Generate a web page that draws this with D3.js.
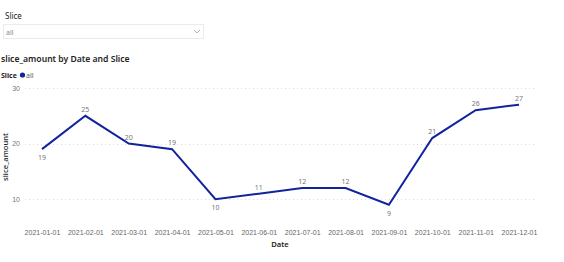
<!DOCTYPE html>
<html>
<head>
<meta charset="utf-8">
<script src="https://cdnjs.cloudflare.com/ajax/libs/d3/7.8.5/d3.min.js"></script>
<style>
  body { margin: 0; background: #fff; }
  svg { display: block; font-family: "Segoe UI", "Noto Sans", sans-serif; }
</style>
</head>
<body>
<script>
// Chart data
var dates = ["2021-01-01", "2021-02-01", "2021-03-01", "2021-04-01", "2021-05-01", "2021-06-01",
             "2021-07-01", "2021-08-01", "2021-09-01", "2021-10-01", "2021-11-01", "2021-12-01"];
var amounts = [19, 25, 20, 19, 10, 11, 12, 12, 9, 21, 26, 27];
// which side of the point the data label sits on
var labelBelow = [true, false, false, false, true, false, false, false, true, false, false, false];
var yTicks = [10, 20, 30];
var sliceOptions = ["all"];

var width = 564, height = 262;
var svg = d3.select("body").append("svg")
    .attr("width", width)
    .attr("height", height);

// Slicer (dropdown) on top
svg.append("text")
    .attr("x", 5).attr("y", 19)
    .style("font-size", "8px")
    .style("fill", "#252423")
    .text("Slice");

svg.append("rect")
    .attr("x", 3.5).attr("y", 24.5)
    .attr("width", 200).attr("height", 14)
    .style("fill", "#fff")
    .style("stroke", "#ebebeb");

svg.append("text")
    .attr("x", 6).attr("y", 34.5)
    .style("font-size", "7px")
    .style("fill", "#8a8886")
    .text(sliceOptions[0]);

svg.append("path")
    .attr("d", "M194,30 L197,33 L200,30")
    .style("fill", "none")
    .style("stroke", "#a19f9d")
    .style("stroke-width", 0.8);

// Title
svg.append("text")
    .attr("x", 1).attr("y", 62)
    .style("font-size", "8.6px")
    .style("font-weight", 600)
    .style("fill", "#252423")
    .text("slice_amount by Date and Slice");

// Legend
svg.append("text")
    .attr("x", 1).attr("y", 77.5)
    .style("font-size", "7px")
    .style("font-weight", 700)
    .style("fill", "#252423")
    .text("Slice");

svg.append("circle")
    .attr("cx", 22.5).attr("cy", 75)
    .attr("r", 2.6)
    .style("fill", "#12239E");

svg.append("text")
    .attr("x", 26).attr("y", 77.5)
    .style("font-size", "7px")
    .style("fill", "#605E5C")
    .text(sliceOptions[0]);

// Scales
var x = d3.scalePoint().domain(dates).range([42, 519]);
var y = d3.scaleLinear().domain([5, 30]).range([227, 88]);

// Gridlines
svg.append("g")
    .selectAll("line")
    .data(yTicks)
    .join("line")
    .attr("x1", 25).attr("x2", 535)
    .attr("y1", function(d) { return Math.round(y(d)) + 0.5; })
    .attr("y2", function(d) { return Math.round(y(d)) + 0.5; })
    .style("stroke", "#dcdcdc")
    .style("stroke-width", 1)
    .style("stroke-dasharray", "1,3");

// Y axis
var yAxis = svg.append("g")
    .attr("transform", "translate(20,0)")
    .call(d3.axisLeft(y).tickValues(yTicks).tickSize(0).tickPadding(0));
yAxis.select(".domain").remove();
yAxis.selectAll("text")
    .style("font-size", "7px")
    .style("fill", "#777")
    .style("font-family", "inherit");

svg.append("text")
    .attr("transform", "translate(8,157) rotate(-90)")
    .attr("text-anchor", "middle")
    .style("font-size", "7.6px")
    .style("font-weight", 500)
    .style("fill", "#252423")
    .text("slice_amount");

// X axis
var xAxis = svg.append("g")
    .attr("transform", "translate(0,230)")
    .call(d3.axisBottom(x).tickSize(0).tickPadding(0));
xAxis.select(".domain").remove();
xAxis.selectAll("text")
    .style("font-size", "7px")
    .style("fill", "#666")
    .style("font-family", "inherit");

svg.append("text")
    .attr("x", 280).attr("y", 247)
    .attr("text-anchor", "middle")
    .style("font-size", "7.6px")
    .style("font-weight", 600)
    .style("fill", "#252423")
    .text("Date");

// Line
var points = dates.map(function(d, i) { return { date: d, value: amounts[i], below: labelBelow[i] }; });

var line = d3.line()
    .x(function(d) { return x(d.date); })
    .y(function(d) { return y(d.value); });

svg.append("path")
    .datum(points)
    .attr("d", line)
    .style("fill", "none")
    .style("stroke", "#12239E")
    .style("stroke-width", 2)
    .style("stroke-linejoin", "miter");

// Data labels
svg.append("g")
    .selectAll("text")
    .data(points)
    .join("text")
    .attr("x", function(d) { return x(d.date); })
    .attr("y", function(d) { return y(d.value) + (d.below ? 11 : -4); })
    .attr("text-anchor", "middle")
    .style("font-size", "7px")
    .style("fill", "#777")
    .text(function(d) { return d.value; });
</script>
</body>
</html>
